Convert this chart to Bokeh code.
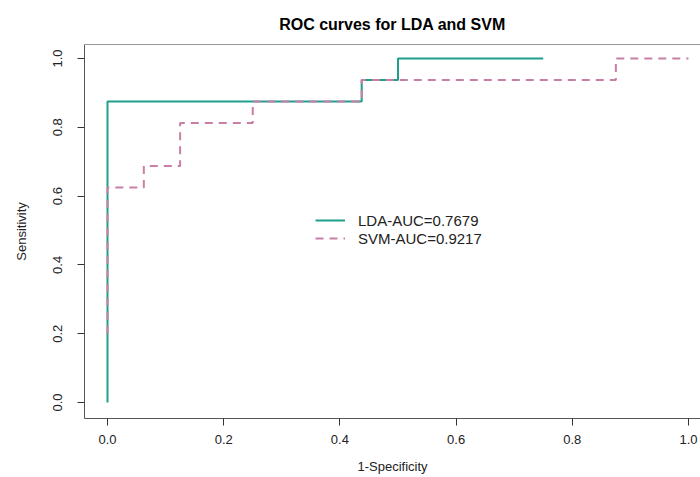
from bokeh.plotting import figure
from bokeh.models import Range1d, FixedTicker, PrintfTickFormatter, Legend, LegendItem, Span
from bokeh.embed import file_html
from bokeh.resources import INLINE

# ROC curve vertices (false positive rate, true positive rate)
lda_fpr = [0.0, 0.0, 0.4375, 0.4375, 0.5, 0.5, 0.75]
lda_tpr = [0.0, 0.875, 0.875, 0.9375, 0.9375, 1.0, 1.0]
svm_fpr = [0.0, 0.0, 0.0625, 0.0625, 0.125, 0.125, 0.25, 0.25, 0.4375, 0.4375, 0.875, 0.875, 1.0]
svm_tpr = [0.2, 0.625, 0.625, 0.6875, 0.6875, 0.8125, 0.8125, 0.875, 0.875, 0.9375, 0.9375, 1.0, 1.0]
x_ticks = [0.0, 0.2, 0.4, 0.6, 0.8, 1.0]
y_ticks = [0.0, 0.2, 0.4, 0.6, 0.8, 1.0]
legend_labels = ["LDA-AUC=0.7679", "SVM-AUC=0.9217"]

FONT = "Liberation Sans"
TEAL = "#1f9e89"
PINK = "#c97fa5"

Y_END = 1.0407
p = figure(width=700, height=477, output_backend="svg", toolbar_location=None,
           x_range=Range1d(-0.0396, 1.0207), y_range=Range1d(-0.0465, Y_END),
           min_border_left=84, min_border_right=0, min_border_top=44, min_border_bottom=59,
           title="ROC curves for LDA and SVM")

p.title.align = "center"
p.title.text_font = FONT
p.title.text_font_size = "16px"
p.title.text_font_style = "bold"
p.title.text_color = "black"
p.title.standoff = 24

p.xgrid.visible = False
p.ygrid.visible = False
p.outline_line_color = None
p.add_layout(Span(location=Y_END, dimension="width", line_color="#333333", line_width=1))

for ax, ticks in ((p.xaxis[0], x_ticks), (p.yaxis[0], y_ticks)):
    ax.ticker = FixedTicker(ticks=ticks)
    ax.formatter = PrintfTickFormatter(format="%.1f")
    ax.minor_tick_line_color = None
    ax.major_tick_in = 0
    ax.major_tick_out = 7
    ax.axis_line_color = "#555555"
    ax.major_tick_line_color = "#333333"
    ax.major_label_text_font = FONT
    ax.major_label_text_font_size = "13px"
    ax.major_label_text_color = "#222222"
    ax.axis_label_text_font = FONT
    ax.axis_label_text_font_size = "13px"
    ax.axis_label_text_font_style = "normal"
    ax.axis_label_text_color = "#222222"

p.xaxis.axis_label = "1-Specificity"
p.xaxis.major_label_standoff = 9
p.xaxis.axis_label_standoff = 12

p.yaxis.axis_label = "Sensitivity"
p.yaxis.major_label_orientation = "vertical"
p.yaxis.major_label_standoff = 15
p.yaxis.axis_label_standoff = 22

r1 = p.line(lda_fpr, lda_tpr, line_color=TEAL, line_width=2)
r2 = p.line(svm_fpr, svm_tpr, line_color=PINK, line_width=2, line_dash="8 6")

legend = Legend(items=[LegendItem(label=legend_labels[0], renderers=[r1]),
                       LegendItem(label=legend_labels[1], renderers=[r2])],
                location=(231, 171), border_line_color=None, background_fill_alpha=0,
                padding=0, margin=0, spacing=0, glyph_width=30, glyph_height=18,
                label_height=18, label_standoff=13,
                label_text_font=FONT, label_text_font_size="15px", label_text_color="#222222")
p.add_layout(legend, "center")

open("out.html", "w").write(file_html(p, INLINE))
